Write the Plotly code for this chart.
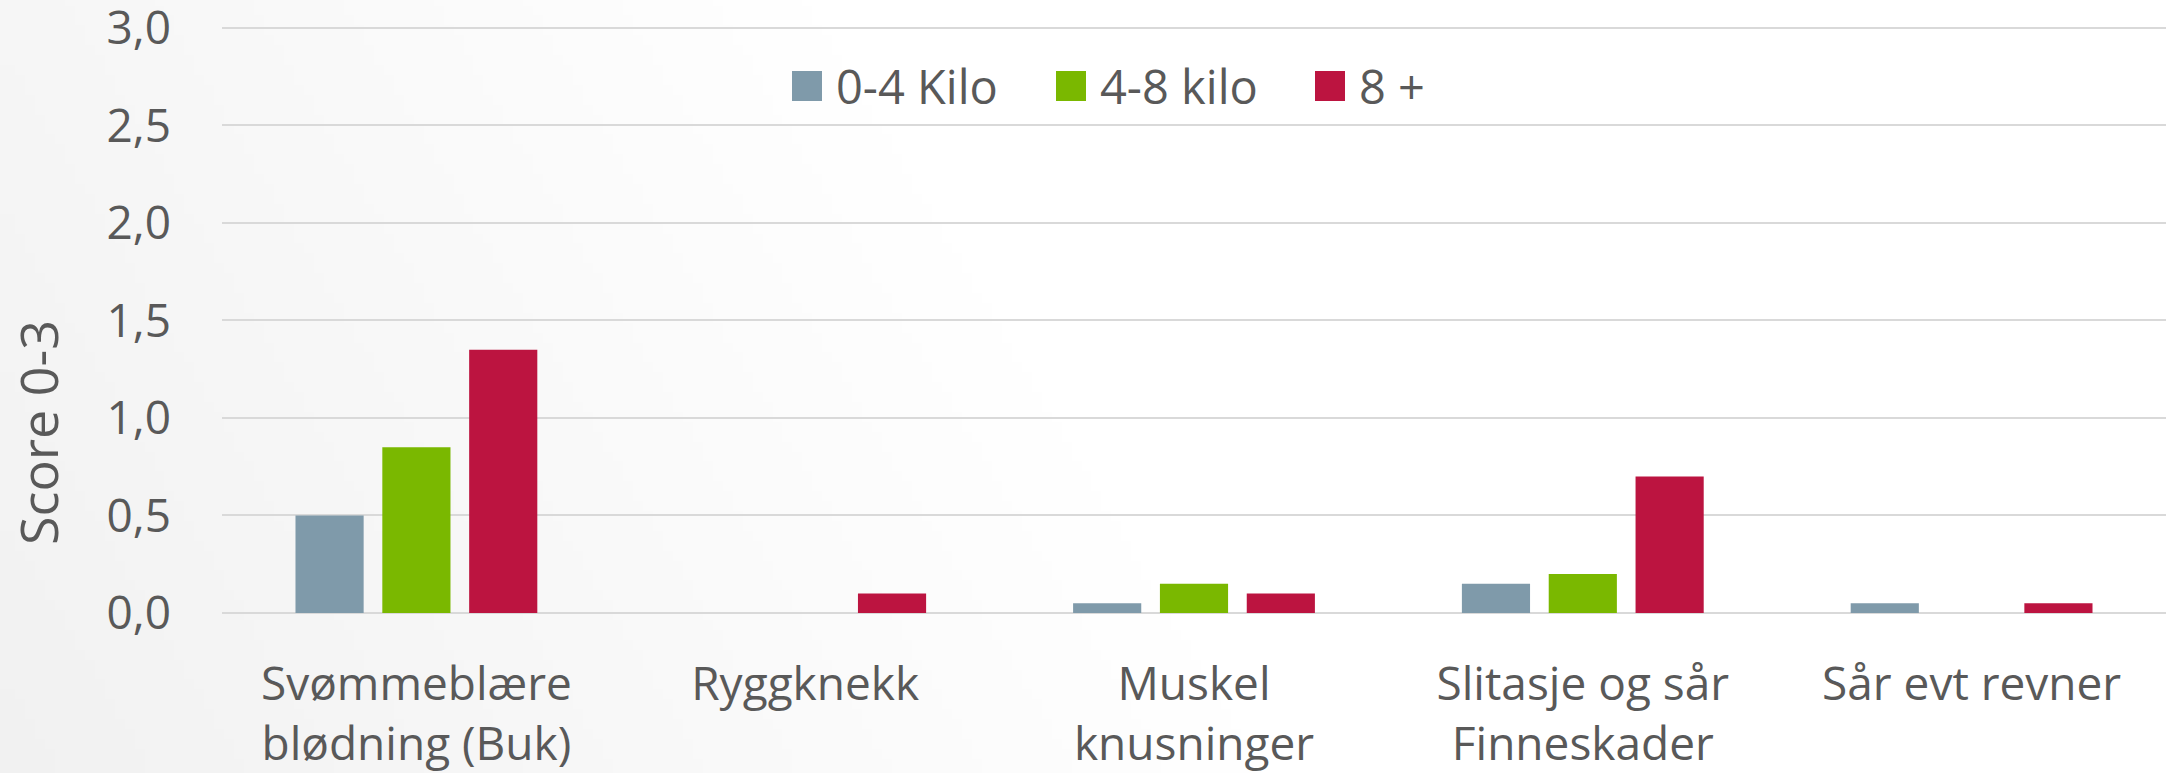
import base64
import struct
import zlib

import plotly.graph_objects as go

# ---------------- data ----------------
categories = [
    "Svømmeblære<br>blødning (Buk)",
    "Ryggknekk",
    "Muskel<br>knusninger",
    "Slitasje og sår<br>Finneskader",
    "Sår evt revner",
]
series_names = ["0-4 Kilo", "4-8 kilo", "8 +"]
values_0_4 = [0.50, 0.0, 0.05, 0.15, 0.05]
values_4_8 = [0.85, 0.0, 0.15, 0.20, 0.0]
values_8_plus = [1.35, 0.10, 0.10, 0.70, 0.05]
series_values = [values_0_4, values_4_8, values_8_plus]
y_ticks = [0.0, 0.5, 1.0, 1.5, 2.0, 2.5, 3.0]
y_title = "Score 0-3"

# ---------------- style ----------------
colors = ["#7F9AAA", "#7AB800", "#BC1440"]
text_color = "#595959"
grid_color = "#D9D9D9"
FONT = "Open Sans"

W, H = 2173, 773
Y_MAX = 3.02
L, R, B = 222, 7, 160
T = int(round(H - B - (H - B - 28) * Y_MAX / 3.0))
PW, PH = W - L - R, H - T - B


def px_x(x):
    return (x - L) / PW


def px_y(y):
    return (H - B - y) / PH


# ---------------- background gradient (pure python PNG) ----------------
def gradient_png(w, h):
    rows = []
    for j in range(h):
        row = bytearray([0])
        for i in range(w):
            X = i / (w - 1) * W
            Y = j / (h - 1) * H
            t = min(1.0, X / 1300.0 + 0.35 * (1 - Y / H))
            row.append(int(round(241 + 14 * t)))
        rows.append(bytes(row))
    raw = b"".join(rows)

    def chunk(tag, data):
        c = struct.pack(">I", len(data)) + tag + data
        return c + struct.pack(">I", zlib.crc32(tag + data) & 0xFFFFFFFF)

    png = b"\x89PNG\r\n\x1a\n"
    png += chunk(b"IHDR", struct.pack(">IIBBBBB", w, h, 8, 0, 0, 0, 0))
    png += chunk(b"IDAT", zlib.compress(raw, 9))
    png += chunk(b"IEND", b"")
    return "data:image/png;base64," + base64.b64encode(png).decode()


bg_src = gradient_png(218, 78)

# ---------------- figure ----------------
fig = go.Figure()
for name, vals, col in zip(series_names, series_values, colors):
    fig.add_trace(
        go.Bar(
            x=categories,
            y=vals,
            name=name,
            marker=dict(color=col, line=dict(width=0)),
            showlegend=False,
        )
    )

# custom legend (big square swatches + text)
legend_sq_x = [792, 1056, 1315]
sq = 30
legend_cy = 86
shapes = []
annotations = []
for lx, name, col in zip(legend_sq_x, series_names, colors):
    shapes.append(
        dict(
            type="rect",
            xref="paper",
            yref="paper",
            x0=px_x(lx),
            x1=px_x(lx + sq),
            y0=px_y(legend_cy + sq / 2),
            y1=px_y(legend_cy - sq / 2),
            fillcolor=col,
            line=dict(width=0),
        )
    )
    annotations.append(
        dict(
            xref="paper",
            yref="paper",
            x=px_x(lx + sq + 12),
            y=px_y(legend_cy),
            xanchor="left",
            yanchor="middle",
            text=name,
            showarrow=False,
            font=dict(family=FONT, size=47, color=text_color),
        )
    )

# y-axis title as annotation (positioned like the original)
annotations.append(
    dict(
        xref="paper",
        yref="paper",
        x=px_x(37),
        y=px_y(433),
        xanchor="center",
        yanchor="middle",
        text=y_title,
        textangle=-90,
        showarrow=False,
        font=dict(family=FONT, size=52, color=text_color),
    )
)

fig.update_layout(
    width=W,
    height=H,
    margin=dict(l=L, r=R, t=T, b=B, pad=0, autoexpand=False),
    paper_bgcolor="white",
    plot_bgcolor="rgba(0,0,0,0)",
    separators=", ",
    barmode="group",
    bargap=0.33,
    bargroupgap=0.215,
    font=dict(family=FONT, size=46, color=text_color),
    shapes=shapes,
    annotations=annotations,
    images=[
        dict(
            source=bg_src,
            xref="paper",
            yref="paper",
            x=px_x(0),
            y=px_y(0),
            sizex=W / PW,
            sizey=H / PH,
            xanchor="left",
            yanchor="top",
            sizing="stretch",
            layer="below",
        )
    ],
)

fig.update_xaxes(
    automargin=False,
    showgrid=False,
    showline=False,
    ticks="",
    tickfont=dict(family=FONT, size=46, color=text_color),
    ticklabelstandoff=40,
    ticklabeloverflow="allow",
)
fig.update_yaxes(
    automargin=False,
    range=[0, Y_MAX],
    tickvals=y_ticks,
    tickformat=".1f",
    showgrid=True,
    gridcolor=grid_color,
    gridwidth=2,
    zeroline=True,
    zerolinecolor=grid_color,
    zerolinewidth=2,
    showline=False,
    ticks="",
    tickfont=dict(family=FONT, size=46, color=text_color),
    ticklabelstandoff=50,
    ticklabeloverflow="allow",
)

fig.write_html(
    "out.html",
    config={"displayModeBar": False},
    post_script="document.body.style.margin='0';document.body.style.overflow='hidden';",
)
